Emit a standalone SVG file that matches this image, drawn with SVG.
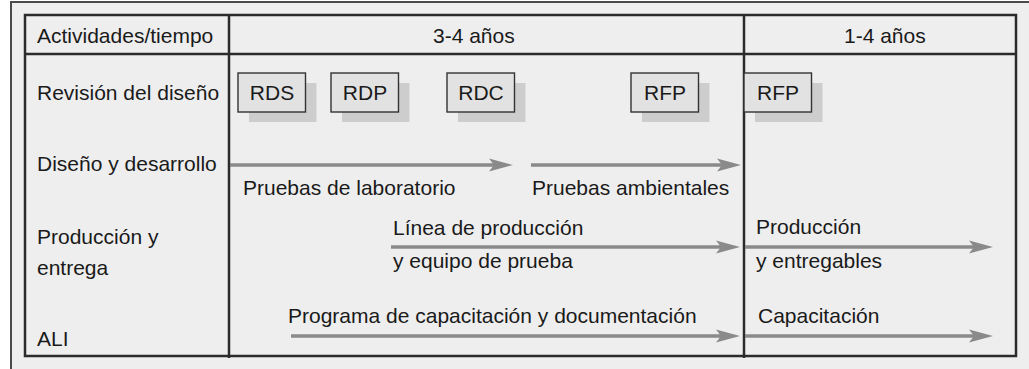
<svg xmlns="http://www.w3.org/2000/svg" width="1029" height="369" viewBox="0 0 1029 369">
<style>
text{font-family:"Liberation Sans",Arial,sans-serif;font-size:21px;fill:#1a1a1a}
.tbl{stroke:#2b2b2b;stroke-width:2.5;fill:none}
.box{fill:#e2e2e2;stroke:#333;stroke-width:1.4}
.sh{fill:#cdcdcd}
.arr{stroke:#8a8a8a;stroke-width:3.6;fill:none;marker-end:url(#ah)}
.c{text-anchor:middle}
</style>
<defs>
<marker id="ah" markerUnits="userSpaceOnUse" viewBox="0 0 24 14" refX="14" refY="7" markerWidth="24" markerHeight="14" orient="auto">
<path d="M0,0.5 L24,7 L0,13.5 L5,7 Z" fill="#8a8a8a"/>
</marker>
</defs>
<rect x="0" y="0" width="1029" height="369" fill="#ffffff"/>
<rect x="11" y="2" width="1040" height="390" fill="#eeeeee" stroke="#4a4a4a" stroke-width="2"/>
<g id="table">
<rect x="25" y="15" width="991" height="341" fill="#ffffff" class="tbl"/>
<line x1="25" y1="54" x2="1016" y2="54" class="tbl"/>
<line x1="229" y1="15" x2="229" y2="358" class="tbl"/>
<line x1="744" y1="15" x2="744" y2="358" class="tbl"/>
</g>
<g id="labels">
<text x="37" y="43">Actividades/tiempo</text>
<text x="433" y="43">3-4 años</text>
<text x="844" y="43">1-4 años</text>
<text x="37" y="100">Revisión del diseño</text>
<text x="37" y="171">Diseño y desarrollo</text>
<text x="37" y="244">Producción y</text>
<text x="37" y="274.5">entrega</text>
<text x="37" y="346">ALI</text>
</g>
<g id="node-rds">
<rect class="sh" x="249" y="83" width="67.5" height="39"/>
<rect class="box" x="238" y="73" width="67.5" height="39"/>
<text class="c" x="272" y="99.5">RDS</text>
</g>
<g id="node-rdp">
<rect class="sh" x="342" y="83" width="67.5" height="39"/>
<rect class="box" x="331" y="73" width="67.5" height="39"/>
<text class="c" x="365" y="99.5">RDP</text>
</g>
<g id="node-rdc">
<rect class="sh" x="458" y="83" width="67.5" height="39"/>
<rect class="box" x="447" y="73" width="67.5" height="39"/>
<text class="c" x="481" y="99.5">RDC</text>
</g>
<g id="node-rfp1">
<rect class="sh" x="642" y="83" width="67.5" height="39"/>
<rect class="box" x="631" y="73" width="67.5" height="39"/>
<text class="c" x="665" y="99.5">RFP</text>
</g>
<g id="node-rfp2">
<rect class="sh" x="755" y="83" width="67.5" height="39"/>
<rect class="box" x="744" y="73" width="67.5" height="39"/>
<text class="c" x="778" y="99.5">RFP</text>
</g>
<g id="connectors">
<line class="arr" x1="230" y1="165" x2="503" y2="165"/>
<line class="arr" x1="531" y1="165" x2="731" y2="165"/>
<line class="arr" x1="391" y1="247" x2="730" y2="247"/>
<line class="arr" x1="745" y1="247" x2="983" y2="247"/>
<line class="arr" x1="291" y1="336" x2="730" y2="336"/>
<line class="arr" x1="745" y1="336" x2="983" y2="336"/>
</g>
<g id="connector-labels">
<text x="243" y="195">Pruebas de laboratorio</text>
<text x="532" y="195">Pruebas ambientales</text>
<text x="393" y="235">Línea de producción</text>
<text x="393" y="268">y equipo de prueba</text>
<text x="756" y="234">Producción</text>
<text x="756" y="268">y entregables</text>
<text x="288" y="323">Programa de capacitación y documentación</text>
<text x="758" y="323">Capacitación</text>
</g>
</svg>
